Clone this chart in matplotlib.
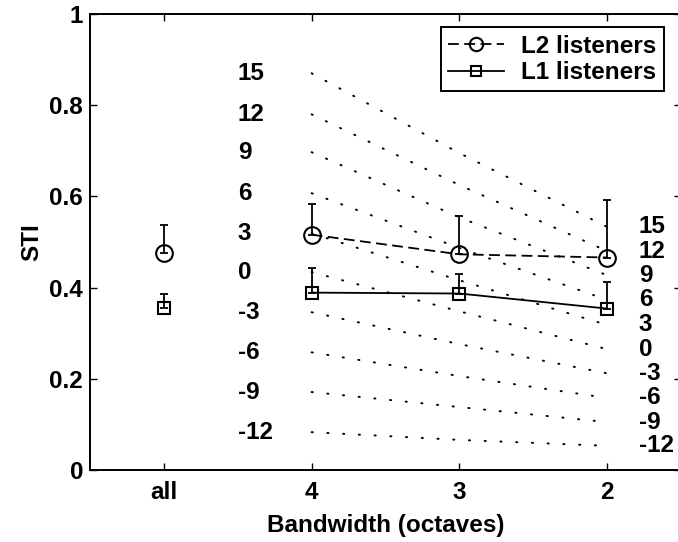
import numpy as np
import matplotlib.pyplot as plt

# conditions on the x axis
conditions = ['all', '4', '3', '2']

# measured STI (mean and upper error) per condition
l2_sti = [0.475, 0.516, 0.473, 0.466]
l2_err = [0.062, 0.068, 0.083, 0.127]
l1_sti = [0.356, 0.389, 0.387, 0.354]
l1_err = [0.031, 0.053, 0.042, 0.059]

# predicted STI per SNR (dB) at bandwidth 4, 3, 2 octaves
snr_levels = [15, 12, 9, 6, 3, 0, -3, -6, -9, -12]
snr_at_4 = [0.870, 0.780, 0.697, 0.607, 0.519, 0.434, 0.346, 0.258, 0.171, 0.083]
snr_at_3 = [0.695, 0.625, 0.554, 0.487, 0.416, 0.348, 0.276, 0.206, 0.138, 0.066]
snr_at_2 = [0.533, 0.480, 0.427, 0.373, 0.318, 0.265, 0.212, 0.158, 0.105, 0.053]

plt.rcParams['font.family'] = ['Liberation Sans', 'DejaVu Sans']
plt.rcParams['font.weight'] = 'bold'
plt.rcParams['axes.labelweight'] = 'bold'
fs = 17.5

fig = plt.figure(figsize=(6.78, 5.42), dpi=100)
ax = fig.add_axes([90 / 678, 72 / 542, 591 / 678, 456 / 542])

x = np.arange(len(conditions))

# dotted SNR prediction lines
for k in range(len(snr_levels)):
    ys = [snr_at_4[k], snr_at_3[k], snr_at_2[k]]
    ax.plot(x[1:], ys, color='black', linewidth=1.4,
            linestyle=(0, (0.6, 7.5)), dash_capstyle='round')
    ax.text(0.5, snr_at_4[k], str(snr_levels[k]), fontsize=fs,
            ha='left', va='center')
    ax.text(3.215, snr_at_2[k], str(snr_levels[k]), fontsize=fs,
            ha='left', va='center')

# error bars (upper only)
ax.errorbar(x, l2_sti, yerr=[np.zeros(4), l2_err], fmt='none',
            ecolor='black', elinewidth=1.3, capsize=3, capthick=1.3)
ax.errorbar(x, l1_sti, yerr=[np.zeros(4), l1_err], fmt='none',
            ecolor='black', elinewidth=1.3, capsize=3, capthick=1.3)

# means
ax.plot(x[:1], l2_sti[:1], 'o', color='black', mfc='none', ms=12, mew=1.5)
ax.plot(x[:1], l1_sti[:1], 's', color='black', mfc='none', ms=9, mew=1.5)
h2, = ax.plot(x[1:], l2_sti[1:], 'o', color='black', mfc='none', ms=12,
              mew=1.5, linestyle=(0, (6, 3)), linewidth=1.3,
              label='L2 listeners')
h1, = ax.plot(x[1:], l1_sti[1:], 's-', color='black', mfc='none', ms=9,
              mew=1.5, linewidth=1.3, label='L1 listeners')

ax.set_xlim(-0.5, 3.5)
ax.set_ylim(0, 1)
ax.set_xticks(x)
ax.set_xticklabels(conditions)
ax.set_yticks([0, 0.2, 0.4, 0.6, 0.8, 1])
ax.set_yticklabels(['0', '0.2', '0.4', '0.6', '0.8', '1'])
ax.tick_params(direction='in', top=True, right=True, labelsize=fs,
               length=5, width=1, pad=5)
ax.tick_params(axis='x', pad=8)
for s in ax.spines.values():
    s.set_linewidth(1.4)

ax.set_xlabel('Bandwidth (octaves)', fontsize=fs, labelpad=7)
ax.set_ylabel('STI', fontsize=fs, labelpad=4)

leg = ax.legend(handles=[h2, h1], loc='upper right',
                bbox_to_anchor=(0.971, 0.971), borderaxespad=0,
                fontsize=fs, fancybox=False, edgecolor='black',
                framealpha=1, handlelength=2.3, handletextpad=0.7,
                borderpad=0.3, labelspacing=0.15, markerscale=0.8)
leg.get_frame().set_linewidth(1.4)

fig.savefig('out.png', dpi=100)
